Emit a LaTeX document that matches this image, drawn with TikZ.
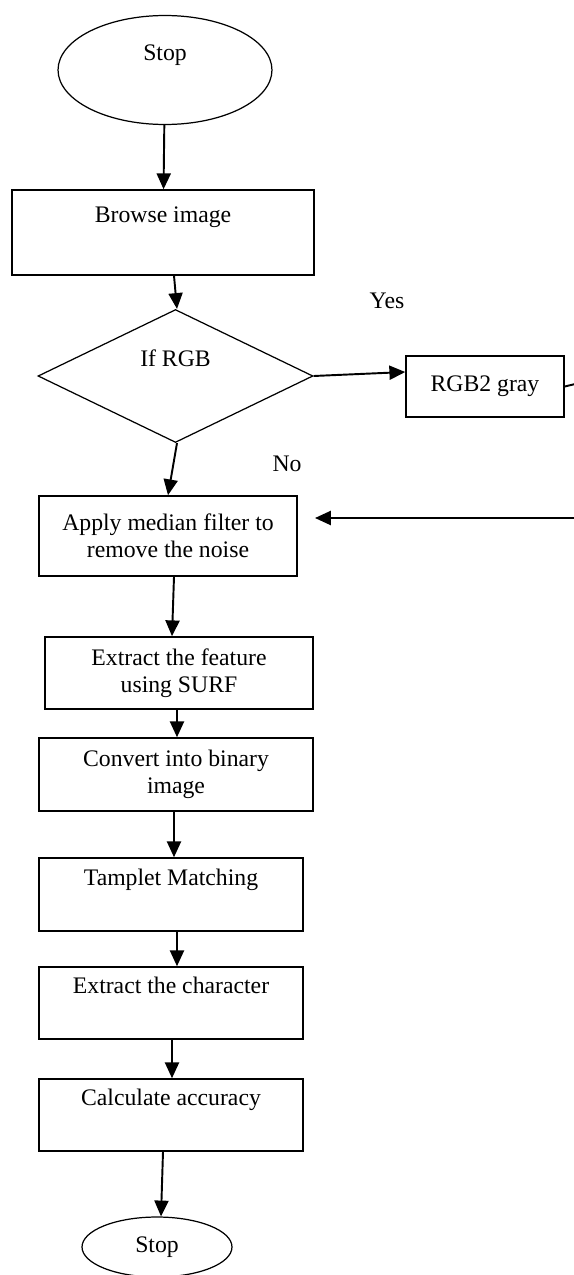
\documentclass[tikz,border=0pt]{standalone}
\usepackage{fontspec}
\setmainfont{Liberation Serif}
\usetikzlibrary{shapes.geometric, arrows.meta}

\tikzstyle{terminal}=[ellipse, draw, line width=0.7pt, inner sep=0pt, align=center]
\tikzstyle{process}=[rectangle, draw, line width=0.9pt, inner sep=0pt, align=center]
\tikzstyle{decision}=[diamond, draw, line width=0.7pt, inner sep=0pt, aspect=2, align=center]
\tikzstyle{flow}=[-{Triangle[length=9pt, width=8pt]}, line width=1.1pt]
\tikzstyle{annot}=[inner sep=0pt]

\newcommand{\toptext}[1]{#1\\ \strut}

\begin{document}
\begin{tikzpicture}[x=0.02cm, y=-0.02cm, font=\fontsize{13.5}{15.4}\selectfont]

\clip (0,0) rectangle (574,1275);

% terminals and decision
\node[terminal, minimum width=4.28cm, minimum height=2.18cm] (start) at (165,70) {\toptext{Stop}};
\node[decision, minimum width=5.5cm, minimum height=2.66cm] (ifrgb) at (175.5,376) {\toptext{If RGB}};
\node[terminal, minimum width=3cm, minimum height=1.2cm] (stop) at (157,1247) {Stop};

% process boxes
\node[process, minimum width=6.04cm, minimum height=1.7cm] (browse) at (163,232.5) {\toptext{Browse image}};
\node[process, minimum width=3.16cm, minimum height=1.22cm] (gray) at (485,386.5) {RGB2 gray};
\node[process, minimum width=5.16cm, minimum height=1.6cm] (median) at (168,536) {Apply median filter to\\remove the noise};
\node[process, minimum width=5.36cm, minimum height=1.44cm] (feature) at (179,673) {Extract the feature\\using SURF};
\node[process, minimum width=5.48cm, minimum height=1.46cm] (binary) at (176,774.5) {Convert into binary\\image};
\node[process, minimum width=5.28cm, minimum height=1.46cm] (match) at (171,894.5) {\toptext{Tamplet Matching}};
\node[process, minimum width=5.28cm, minimum height=1.44cm] (char) at (171,1003) {\toptext{Extract the character}};
\node[process, minimum width=5.28cm, minimum height=1.44cm] (accuracy) at (171,1115) {\toptext{Calculate accuracy}};

% branch labels
\node[annot] (yes) at (387,301) {Yes};
\node[annot] (no) at (287,464) {No};

\coordinate (loopr) at (600,378);
\coordinate (medin) at (315,518);

% connectors
\draw[flow] (start) -- (browse);
\draw[flow] ([xshift=0.22cm]browse.south) -- ([xshift=0.03cm]ifrgb.north);
\draw[flow] ([xshift=0.03cm]ifrgb.south) -- (median.north);
\draw[flow] (ifrgb.east) -- ([yshift=0.29cm]gray.west);
\draw[flow] (gray.east) -- (loopr) |- (medin);
\draw[flow] ([xshift=0.12cm]median.south) -- ([xshift=-0.14cm]feature.north);
\draw[flow] ([xshift=-0.04cm]feature.south) -- ([xshift=0.02cm]binary.north);
\draw[flow] ([xshift=-0.04cm]binary.south) -- ([xshift=0.06cm]match.north);
\draw[flow] ([xshift=0.12cm]match.south) -- ([xshift=0.12cm]char.north);
\draw[flow] ([xshift=0.02cm]char.south) -- ([xshift=0.02cm]accuracy.north);
\draw[flow] ([xshift=-0.16cm]accuracy.south) -- ([xshift=0.08cm]stop.north);

\end{tikzpicture}
\end{document}
